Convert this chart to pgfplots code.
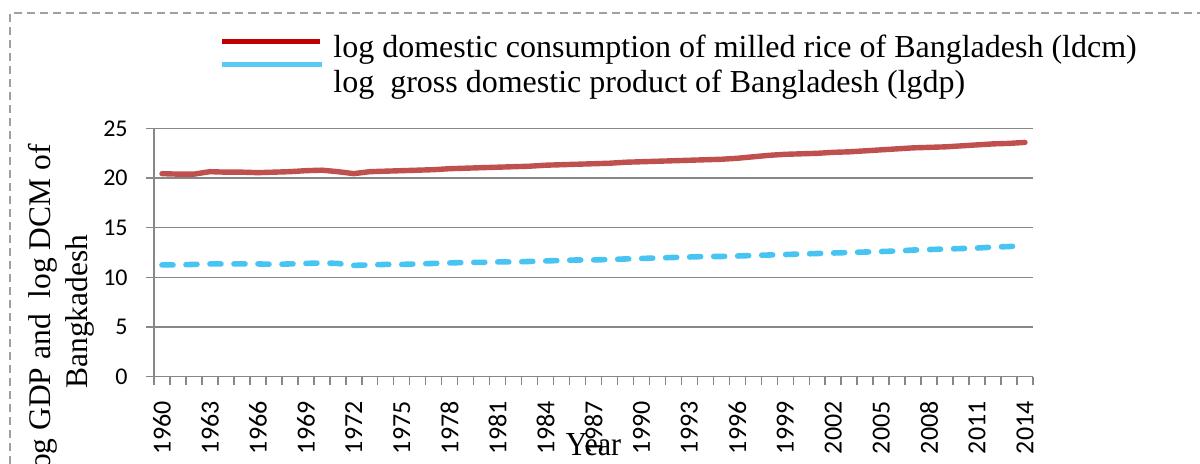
\documentclass[border=0pt]{standalone}
\usepackage{fontspec}
\setmainfont{Liberation Serif}
\newfontfamily\calibri{Carlito}
\usepackage{pgfplots}
\usepackage{pgfplotstable}
\pgfplotsset{compat=1.18}
\definecolor{redline}{HTML}{C0504D}
\definecolor{redleg}{HTML}{C00000}
\definecolor{blueline}{HTML}{47C4F2}
\definecolor{blueleg}{HTML}{5BC9F5}
\definecolor{gridc}{HTML}{878787}
\definecolor{borderc}{HTML}{A0A0A0}
\pgfplotstableread{
i year ldcm lgdp
0 1960 20.45 11.25
1 1961 20.40 11.25
2 1962 20.40 11.30
3 1963 20.65 11.35
4 1964 20.60 11.35
5 1965 20.60 11.35
6 1966 20.55 11.35
7 1967 20.60 11.30
8 1968 20.65 11.35
9 1969 20.75 11.40
10 1970 20.80 11.45
11 1971 20.65 11.40
12 1972 20.45 11.20
13 1973 20.65 11.25
14 1974 20.70 11.30
15 1975 20.75 11.30
16 1976 20.80 11.35
17 1977 20.85 11.40
18 1978 20.95 11.45
19 1979 21.00 11.50
20 1980 21.05 11.50
21 1981 21.10 11.55
22 1982 21.15 11.55
23 1983 21.20 11.60
24 1984 21.30 11.65
25 1985 21.35 11.70
26 1986 21.40 11.75
27 1987 21.45 11.75
28 1988 21.50 11.80
29 1989 21.60 11.85
30 1990 21.65 11.90
31 1991 21.70 11.95
32 1992 21.75 12.00
33 1993 21.80 12.05
34 1994 21.85 12.10
35 1995 21.90 12.10
36 1996 22.00 12.15
37 1997 22.15 12.20
38 1998 22.30 12.25
39 1999 22.40 12.30
40 2000 22.45 12.35
41 2001 22.50 12.40
42 2002 22.60 12.45
43 2003 22.65 12.50
44 2004 22.75 12.55
45 2005 22.85 12.60
46 2006 22.95 12.65
47 2007 23.05 12.75
48 2008 23.10 12.80
49 2009 23.15 12.85
50 2010 23.25 12.90
51 2011 23.35 12.95
52 2012 23.45 13.05
53 2013 23.50 13.10
54 2014 23.60 13.20
}\datatable
\begin{document}
\begin{tikzpicture}
\path[use as bounding box] (0,0) rectangle (600pt,231.5pt);
\clip (0,0) rectangle (600pt,231.5pt);
% dashed border
\draw[borderc, line width=0.6pt, dash pattern=on 4pt off 2.5pt] (5pt,-20pt) -- (5pt,225pt) -- (620pt,225pt);
% legend
\draw[redleg, line width=2.5pt] (111pt,211pt) -- (160pt,211pt);
\draw[blueleg, line width=2.5pt] (111pt,199.5pt) -- (161pt,199.5pt);
\node[anchor=base west, inner sep=0pt, font=\fontsize{16}{18}\selectfont] at (166.5pt,203pt) {log domestic consumption of milled rice of Bangladesh (ldcm)};
\node[anchor=base west, inner sep=0pt, font=\fontsize{16}{18}\selectfont] at (166.5pt,185.5pt) {log\ \ gross domestic product of Bangladesh (lgdp)};
\begin{axis}[
  at={(77pt,43.25pt)}, anchor=south west,
  width=439.5pt, height=124pt, scale only axis,
  xmin=-0.5, xmax=54.5, ymin=0, ymax=25,
  axis x line*=bottom, axis y line*=left,
  axis line style={gridc, line width=0.75pt},
  ytick={0,5,...,25},
  ymajorgrids, grid style={gridc, line width=0.75pt},
  xtick={0,3,...,54},
  xticklabels={1960,1963,1966,1969,1972,1975,1978,1981,1984,1987,1990,1993,1996,1999,2002,2005,2008,2011,2014},
  minor xtick={-0.5,0.5,...,54.5},
  major x tick style={draw=none},
  minor x tick style={gridc, line width=0.75pt},
  y tick style={gridc, line width=0.75pt},
  tick align=outside,
  major tick length=4pt, minor tick length=4pt,
  /pgf/number format/assume math mode=true,
  tick label style={font=\calibri\fontsize{12}{14}\selectfont, text=black},
  x tick label style={rotate=90, font=\calibri\fontsize{13}{15}\selectfont, anchor=east, inner sep=0pt},
  xticklabel shift=8.25pt,
  y tick label style={anchor=east, inner sep=0pt},
  yticklabel shift=9pt,
  xlabel={Year},
  xlabel style={font=\fontsize{15}{17}\selectfont, yscale=1.12, at={(axis description cs:0.5,-0.3165)}, anchor=base, inner sep=0pt},
  ylabel={log GDP and\ \ log DCM of\\Bangkadesh},
  ylabel style={font=\fontsize{15.75}{18.5}\selectfont, align=center, at={(axis description cs:-0.1058,0.262)}, anchor=center, inner sep=0pt},
  clip=false,
]
\addplot[redline, line width=2.7pt, line join=round, line cap=round] table[x=i, y=ldcm] {\datatable};
\addplot[blueline, line width=2.8pt, line join=round, line cap=round, dash pattern=on 5.5pt off 6.5pt] table[x=i, y=lgdp] {\datatable};
\end{axis}
\end{tikzpicture}
\end{document}
